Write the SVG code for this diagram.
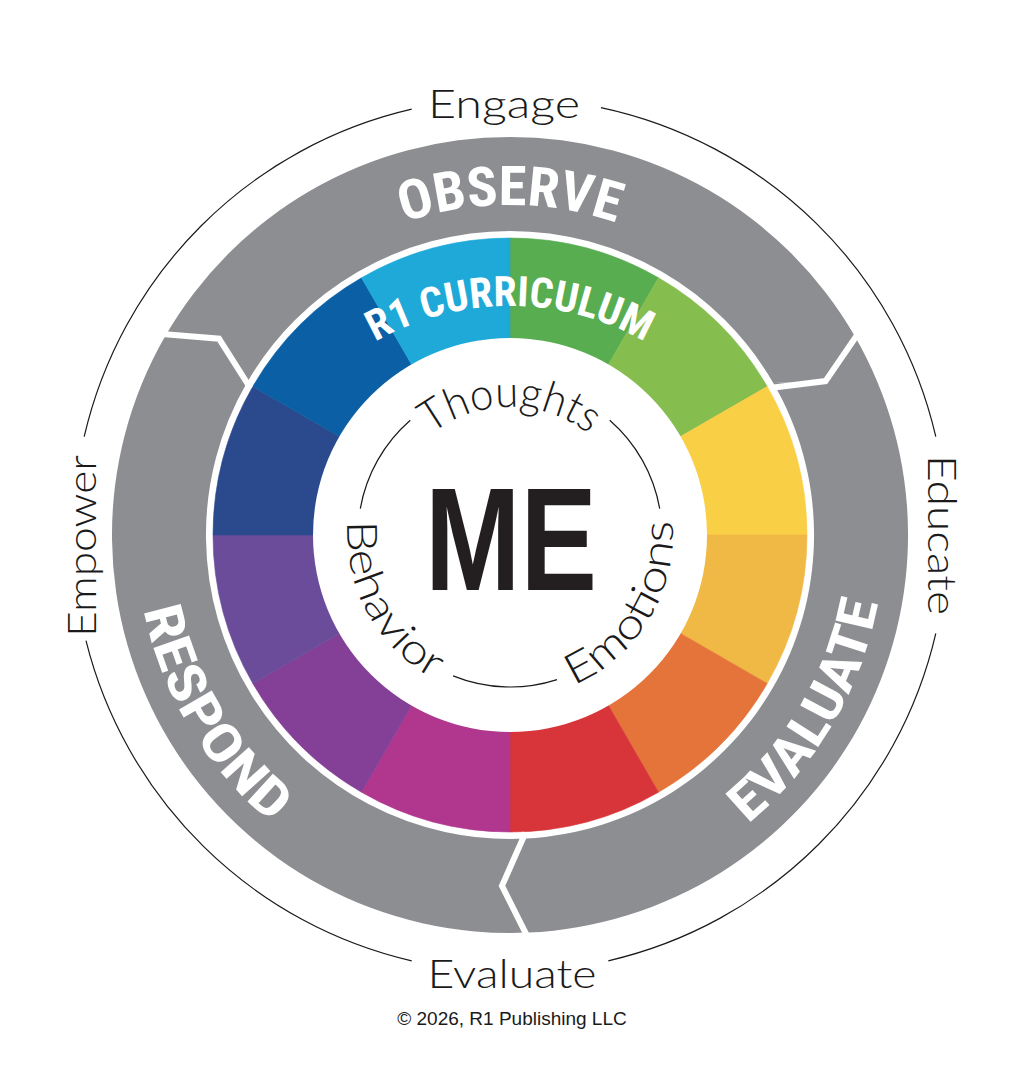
<svg xmlns="http://www.w3.org/2000/svg" xmlns:xlink="http://www.w3.org/1999/xlink" width="1021" height="1072" viewBox="0 0 1021 1072">
  <style>
    .ring { fill: #8d8e91; }
    .big { fill: #ffffff; font-family: 'Liberation Sans Narrow', 'Roboto Condensed', 'DejaVu Sans Condensed', 'Liberation Sans', sans-serif; font-weight: 700; font-stretch: condensed; }
    .lbl { fill: #1a1a1a; font-family: Lato, 'Open Sans', 'Liberation Sans', sans-serif; font-weight: 300; }
    .thin { fill: none; stroke: #1a1a1a; stroke-width: 1.2; }
    .div { fill: none; stroke: #ffffff; stroke-width: 6; stroke-linejoin: miter; }
  </style>
  <defs>
    <path id="pObserve" d="M 180 535 A 330 330 0 0 1 840 535"/>
    <path id="pEvaluate" d="M 318.2 860.7 A 378 378 0 0 0 701.8 209.3"/>
    <path id="pRespond" d="M 317.4 214.4 A 374 374 0 0 0 702.6 855.6"/>
    <path id="pCurr" d="M 237.4 578.6 A 272.6 272.6 0 0 1 782.6 578.6"/>
    <path id="pThoughts" d="M 382 535 A 128 128 0 0 1 638 535"/>
    <path id="pEmotions" d="M 425 676.4 A 165 165 0 0 0 595 393.6"/>
    <path id="pBehavior" d="M 431.3 390 A 165 165 0 0 0 588.7 680"/>
  </defs>
  <rect width="1021" height="1072" fill="#ffffff"/>

  <g id="observe">
    <path class="ring" d="M 165.3 336 A 398 398 0 0 1 854.7 336 L 825.5 381.1 L 773.3 383 A 304 304 0 0 0 246.7 383 L 219 338.7 Z"/>
    <text class="big" font-size="55"><textPath xlink:href="#pObserve" href="#pObserve" startOffset="50%" text-anchor="middle" textLength="216" lengthAdjust="spacingAndGlyphs">OBSERVE</textPath></text>
  </g>
  <g id="evaluate">
    <path class="ring" d="M 854.7 336 A 398 398 0 0 1 528.1 932.6 L 502 885.9 L 525.9 838.6 A 304 304 0 0 0 773.3 383 L 825.5 381.1 Z"/>
    <text class="big" font-size="53"><textPath xlink:href="#pEvaluate" href="#pEvaluate" startOffset="50%" text-anchor="middle" textLength="262" lengthAdjust="spacingAndGlyphs">EVALUATE</textPath></text>
  </g>
  <g id="respond">
    <path class="ring" d="M 528.1 932.6 A 398 398 0 0 1 165.3 336 L 219 338.7 L 246.7 383 A 304 304 0 0 0 525.9 838.6 L 502 885.9 Z"/>
    <text class="big" font-size="53"><textPath xlink:href="#pRespond" href="#pRespond" startOffset="50%" text-anchor="middle" textLength="254" lengthAdjust="spacingAndGlyphs">RESPOND</textPath></text>
  </g>

  <g id="curriculum">
    <path fill="#58ad50" stroke="#58ad50" stroke-width="0.6" d="M 510 535 L 510 238 A 297 297 0 0 1 658.5 277.8 Z"/>
    <path fill="#86bd4f" stroke="#86bd4f" stroke-width="0.6" d="M 510 535 L 658.5 277.8 A 297 297 0 0 1 767.2 386.5 Z"/>
    <path fill="#f9cf46" stroke="#f9cf46" stroke-width="0.6" d="M 510 535 L 767.2 386.5 A 297 297 0 0 1 807 535 Z"/>
    <path fill="#f0b844" stroke="#f0b844" stroke-width="0.6" d="M 510 535 L 807 535 A 297 297 0 0 1 767.2 683.5 Z"/>
    <path fill="#e5743a" stroke="#e5743a" stroke-width="0.6" d="M 510 535 L 767.2 683.5 A 297 297 0 0 1 658.5 792.2 Z"/>
    <path fill="#d8353a" stroke="#d8353a" stroke-width="0.6" d="M 510 535 L 658.5 792.2 A 297 297 0 0 1 510 832 Z"/>
    <path fill="#b0368e" stroke="#b0368e" stroke-width="0.6" d="M 510 535 L 510 832 A 297 297 0 0 1 361.5 792.2 Z"/>
    <path fill="#844096" stroke="#844096" stroke-width="0.6" d="M 510 535 L 361.5 792.2 A 297 297 0 0 1 252.8 683.5 Z"/>
    <path fill="#6b4c9b" stroke="#6b4c9b" stroke-width="0.6" d="M 510 535 L 252.8 683.5 A 297 297 0 0 1 213 535 Z"/>
    <path fill="#2b4a8d" stroke="#2b4a8d" stroke-width="0.6" d="M 510 535 L 213 535 A 297 297 0 0 1 252.8 386.5 Z"/>
    <path fill="#0b5fa5" stroke="#0b5fa5" stroke-width="0.6" d="M 510 535 L 252.8 386.5 A 297 297 0 0 1 361.5 277.8 Z"/>
    <path fill="#1fa9d8" stroke="#1fa9d8" stroke-width="0.6" d="M 510 535 L 361.5 277.8 A 297 297 0 0 1 510 238 Z"/>
    <text class="big" font-size="42"><textPath xlink:href="#pCurr" href="#pCurr" startOffset="50%" text-anchor="middle" textLength="282" lengthAdjust="spacingAndGlyphs">R1 CURRICULUM</textPath></text>
  </g>

  <g id="me">
    <circle cx="510" cy="535" r="197" fill="#ffffff"/>
    <text x="511" y="590" text-anchor="middle" font-family="'Liberation Sans', Arial, sans-serif" font-weight="700" font-size="146" fill="#231f20" textLength="172" lengthAdjust="spacingAndGlyphs">ME</text>
  </g>

  <g id="thoughts">
    <text class="lbl" font-size="44"><textPath xlink:href="#pThoughts" href="#pThoughts" startOffset="50%" text-anchor="middle" textLength="170" lengthAdjust="spacingAndGlyphs">Thoughts</textPath></text>
  </g>
  <g id="emotions">
    <text class="lbl" font-size="42"><textPath xlink:href="#pEmotions" href="#pEmotions" startOffset="50%" text-anchor="middle" textLength="205" lengthAdjust="spacingAndGlyphs">Emotions</textPath></text>
  </g>
  <g id="behavior">
    <text class="lbl" font-size="42"><textPath xlink:href="#pBehavior" href="#pBehavior" startOffset="50%" text-anchor="middle" textLength="190" lengthAdjust="spacingAndGlyphs">Behavior</textPath></text>
  </g>

  <g id="engage"><text class="lbl" x="504" y="118" font-size="40" text-anchor="middle" textLength="152" lengthAdjust="spacingAndGlyphs">Engage</text></g>
  <g id="educate"><text class="lbl" transform="translate(928,535) rotate(90)" font-size="40" text-anchor="middle" textLength="160" lengthAdjust="spacingAndGlyphs">Educate</text></g>
  <g id="evaluate-label"><text class="lbl" x="512" y="988" font-size="40" text-anchor="middle" textLength="169" lengthAdjust="spacingAndGlyphs">Evaluate</text></g>
  <g id="empower"><text class="lbl" transform="translate(96,546) rotate(-90)" font-size="40" text-anchor="middle" textLength="182" lengthAdjust="spacingAndGlyphs">Empower</text></g>

  <g id="connectors">
    <polyline class="div" points="162.2,334 219,338.7 250.3,388"/>
    <polyline class="div" points="857.8,334 825.5,381.1 769.8,388"/>
    <polyline class="div" points="528.4,938.6 502,885.9 525.5,832.6"/>
    <path class="thin" d="M 600.9 107.6 A 437 437 0 0 1 935.8 436.7"/>
    <path class="thin" d="M 935.8 633.3 A 437 437 0 0 1 608.3 960.8"/>
    <path class="thin" d="M 411.7 960.8 A 437 437 0 0 1 86 640.7"/>
    <path class="thin" d="M 84.2 436.7 A 437 437 0 0 1 411.7 109.2"/>
    <path class="thin" d="M 609.7 420.3 A 152 152 0 0 1 659.7 508.6"/>
    <path class="thin" d="M 557 679.6 A 152 152 0 0 1 453.1 675.9"/>
    <path class="thin" d="M 360.3 508.6 A 152 152 0 0 1 410.3 420.3"/>
  </g>

  <text x="512" y="1025" text-anchor="middle" font-family="'Liberation Sans', Arial, sans-serif" font-size="19" fill="#1a1a1a">© 2026, R1 Publishing LLC</text>
</svg>
